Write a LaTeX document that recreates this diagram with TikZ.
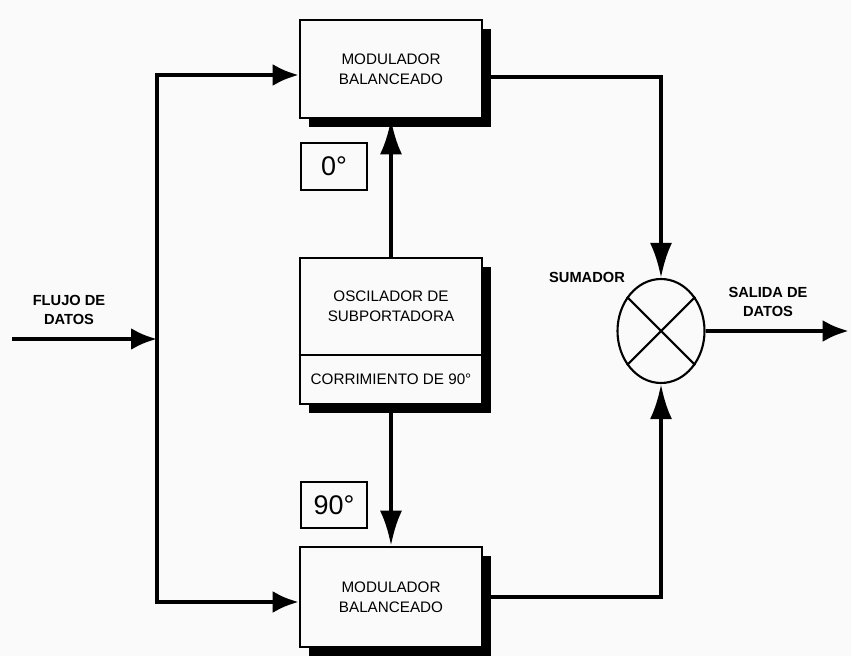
\documentclass[tikz,border=0pt]{standalone}
\usepackage{fontspec}
\setmainfont{Liberation Sans}
\usepackage{xcolor}
\usepackage{tikz}
\usetikzlibrary{arrows.meta,shadows,shapes.geometric}
\definecolor{PaperWhite}{HTML}{FAFAFA}
\definecolor{InkBlack}{HTML}{000000}
\tikzset{
	blockbox/.style={draw=InkBlack, fill=PaperWhite, line width=2.2pt, minimum width=5.46cm, align=center,
		font=\fontsize{13}{17}\selectfont,
		drop shadow={shadow xshift=0.27cm, shadow yshift=-0.27cm, fill=InkBlack, opacity=1}},
	blocktext/.style={align=center, font=\fontsize{13}{17}\selectfont},
	phasebox/.style={draw=InkBlack, fill=PaperWhite, line width=1.8pt, minimum width=1.98cm, minimum height=1.4cm,
		font=\fontsize{23}{25}\selectfont},
	sumnode/.style={ellipse, draw=InkBlack, fill=PaperWhite, line width=1.8pt, minimum width=2.61cm, minimum height=3.12cm, inner sep=0pt},
	flowlabel/.style={align=center, font=\bfseries\fontsize{12.5}{17}\selectfont},
	wire/.style={line width=3.8pt, draw=InkBlack},
	flowh/.style={wire, -{Latex[length=7.8mm,width=6.6mm]}},
	flowv/.style={wire, -{Latex[length=10.5mm,width=6.6mm]}},
}

\begin{document}
\begin{tikzpicture}[x=1cm,y=1cm]
	\fill[PaperWhite] (0,0) rectangle (25.53,19.68);
	\useasboundingbox (0,0) rectangle (25.53,19.68);

	% Modulators and subcarrier oscillator
	\node[blockbox, minimum height=2.94cm] (modtop) at (11.73,17.61) {MODULADOR\\BALANCEADO};
	\node[blockbox, minimum height=4.38cm] (osc) at (11.73,9.75) {};
	\node[blocktext] (osctxt) at (11.73,10.50) {OSCILADOR DE\\SUBPORTADORA};
	\node[blocktext] (corr) at (11.73,8.31) {CORRIMIENTO DE 90°};
	\draw[line width=1.6pt, draw=InkBlack] ([yshift=1.5cm]osc.south west) -- ([yshift=1.5cm]osc.south east);
	\node[blockbox, minimum height=3.0cm] (modbot) at (11.73,1.77) {MODULADOR\\BALANCEADO};

	% Phase tags
	\node[phasebox] (ang0) at (10.02,14.685) {0°};
	\node[phasebox] (ang90) at (10.02,4.53) {90°};

	% Adder
	\node[sumnode] (sum) at (19.83,9.75) {};
	\draw[line width=1.8pt, draw=InkBlack] (sum.45) -- (sum.225) (sum.135) -- (sum.315);

	% Labels
	\node[flowlabel] (flujo) at (2.07,10.38) {FLUJO DE\\DATOS};
	\node[flowlabel] (sumador) at (17.61,11.37) {SUMADOR};
	\node[flowlabel] (salida) at (23.04,10.62) {SALIDA DE\\DATOS};

	% Connectors
	\coordinate (inp) at (0.36,9.51);
	\coordinate (jtop) at (4.71,17.43);
	\coordinate (jbot) at (4.71,1.62);
	\coordinate (outp) at (25.46,9.75);
	\draw[flowh] (inp) -- (inp -| jtop);
	\draw[flowh] (jbot) -- (jtop) -- (jtop -| modtop.west);
	\draw[flowh] (jtop) -- (jbot) -- (jbot -| modbot.west);
	\draw[flowv] (osc.north) -- (modtop.south);
	\draw[flowv] (osc.south) -- (modbot.north);
	\draw[flowv] ([yshift=-0.24cm]modtop.east) -| (sum.north);
	\draw[flowv] (modbot.east) -| (sum.south);
	\draw[flowh] (sum.east) -- (outp);
\end{tikzpicture}
\end{document}
